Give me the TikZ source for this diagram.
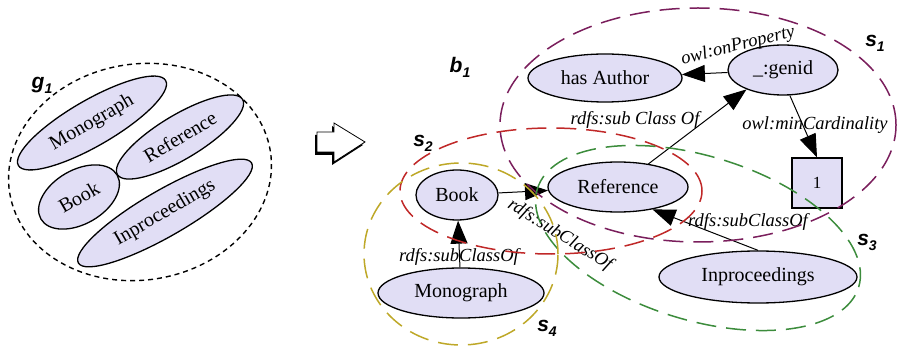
\documentclass[tikz,border=0pt]{standalone}
\usepackage{fontspec}
\setmainfont{Liberation Serif}
\newfontfamily\tagfont{Liberation Sans}
\usetikzlibrary{arrows.meta,shapes.geometric}
\definecolor{nodefill}{RGB}{225,222,245}
\definecolor{setone}{RGB}{122,30,92}
\definecolor{settwo}{RGB}{192,40,40}
\definecolor{setthree}{RGB}{60,140,60}
\definecolor{setfour}{RGB}{190,168,40}
\tikzset{
  cls/.style={ellipse, draw, line width=1.3pt, fill=nodefill, inner sep=0pt,
    font=\fontsize{20}{24}\selectfont},
  valbox/.style={rectangle, draw, line width=1.3pt, fill=nodefill, inner sep=0pt,
    minimum width=50pt, minimum height=50pt, font=\fontsize{17}{20}\selectfont},
  lbl/.style={inner sep=0pt, font=\fontsize{18.5}{22}\selectfont\itshape},
  arr/.style={-{Triangle[length=23pt,width=17pt]}, line width=1pt},
  setline/.style={ellipse, draw, inner sep=0pt, dash pattern=on 20pt off 10pt, line width=1.5pt},
  tag/.style={inner sep=0pt, font=\tagfont\bfseries\itshape\fontsize{21}{24}\selectfont},
}
\newcommand{\tagsub}[2]{#1\raisebox{-5pt}{\fontsize{14}{16}\selectfont #2}}
\begin{document}
\begin{tikzpicture}[x=1pt,y=1pt]
\useasboundingbox (0,0) rectangle (901,348);

% ---------- left: g1 ----------
\node[ellipse, draw, inner sep=0pt, rotate=9, minimum width=264pt, minimum height=216pt,
  dash pattern=on 5pt off 4pt, line width=1.4pt] (g1) at (140,176) {};
\node[tag] (g1tag) at (42,263) {\tagsub{g}{1}};
\node[cls, rotate=30, minimum width=170pt, minimum height=46pt] (lmono) at (92,225) {Monograph};
\node[cls, rotate=31, minimum width=146pt, minimum height=44pt] (lref) at (180,211) {Reference};
\node[cls, rotate=30, minimum width=88pt, minimum height=54pt] (lbook) at (79,151) {Book};
\node[cls, rotate=30, minimum width=200pt, minimum height=46pt] (linp) at (165,135) {Inproceedings};

% ---------- transformation arrow ----------
\fill[black] (315,213) -- (332,213) -- (332,222) -- (363,203) -- (332,183) -- (332,193) -- (315,193) -- cycle;
\filldraw[fill=white, draw=black, line width=0.8pt]
  (317,216) -- (334,216) -- (334,225) -- (365,206) -- (334,186) -- (334,196) -- (317,196) -- cycle;

% ---------- right: b1 ----------
\node[tag] (b1tag) at (460,281) {\tagsub{b}{1}};

\node[cls, minimum width=154pt, minimum height=48pt] (hasauthor) at (605,270) {has Author};
\node[cls, minimum width=110pt, minimum height=50pt] (genid) at (783,278) {\_:genid};
\node[valbox] (one) at (817,165) {1};
\node[cls, minimum width=140pt, minimum height=50pt] (ref) at (618,161) {Reference};
\node[cls, minimum width=82pt, minimum height=50pt] (book) at (457,153) {Book};
\node[cls, minimum width=166pt, minimum height=50pt] (mono) at (461,55) {Monograph};
\node[cls, minimum width=198pt, minimum height=52pt] (inp) at (758,71) {Inproceedings};

\draw[arr] (genid) -- (hasauthor);
\draw[arr] (ref) -- (genid.208);
\draw[arr] (genid.-75) -- (one.north);
\draw[arr] (book) -- (ref);
\draw[arr] (mono) -- (book);
\draw[arr] (inp.north) -- (ref.-33);

\node[lbl, rotate=14] (l1) at (738,302) {owl:onProperty};
\node[lbl] (l2) at (635,228) {rdfs:sub Class Of};
\node[lbl] (l3) at (815,223) {owl:minCardinality};
\node[lbl, rotate=-32] (l4) at (560,113) {rdfs:subClassOf};
\node[lbl] (l5) at (459,91) {rdfs:subClassOf};
\node[lbl] (l6) at (748,126) {rdfs:subClassOf};

% ---------- dashed sets ----------
\node[setline, draw=setone, minimum width=396pt, minimum height=234pt] (s1) at (698,223) {};
\node[setline, draw=settwo, minimum width=302pt, minimum height=126pt] (s2) at (551,157) {};
\node[setline, draw=setthree, rotate=-17, minimum width=336pt, minimum height=164pt] (s3) at (698,110) {};
\node[setline, draw=setfour, minimum width=194pt, minimum height=182pt] (s4) at (461,94) {};

\node[tag] (s1tag) at (875,305) {\tagsub{s}{1}};
\node[tag] (s2tag) at (423,205) {\tagsub{s}{2}};
\node[tag] (s3tag) at (867,106) {\tagsub{s}{3}};
\node[tag] (s4tag) at (547,20) {\tagsub{s}{4}};
\end{tikzpicture}
\end{document}
